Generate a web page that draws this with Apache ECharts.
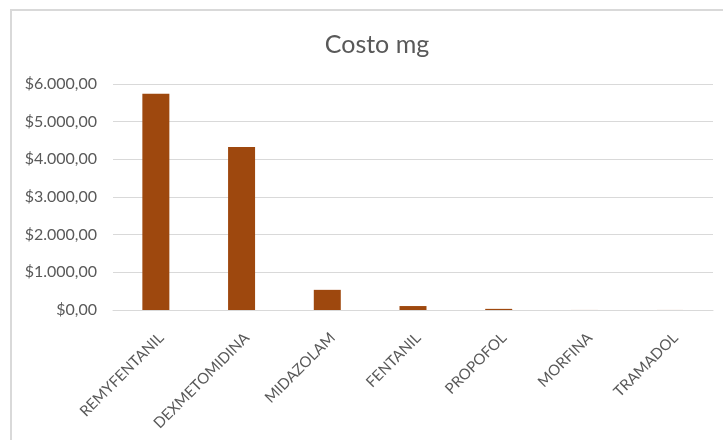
<!DOCTYPE html>
<html>
<head>
<meta charset="utf-8">
<script src="https://cdn.jsdelivr.net/npm/echarts@6/dist/echarts.min.js"></script>
<style>
  html, body { margin: 0; padding: 0; background: #fff; }
  #chart { width: 723px; height: 440px; }
</style>
</head>
<body>
<div id="chart"></div>
<script>
// Cost per mg of each drug
const categories = ['REMYFENTANIL', 'DEXMETOMIDINA', 'MIDAZOLAM', 'FENTANIL', 'PROPOFOL', 'MORFINA', 'TRAMADOL'];
const costPerMg = [5740, 4330, 535, 105, 30, 1, 1];
const yTicks = { min: 0, max: 6000, interval: 1000 };

function money(v) {
  const parts = v.toFixed(2).split('.');
  const intPart = parts[0].replace(/\B(?=(\d{3})+(?!\d))/g, '.');
  return '$' + intPart + ',' + parts[1];
}

const chart = echarts.init(document.getElementById('chart'), null, { renderer: 'canvas' });
chart.setOption({
  animation: false,
  backgroundColor: '#ffffff',
  title: {
    text: 'Costo mg',
    left: 372,
    top: 27,
    textAlign: 'center',
    textStyle: { fontFamily: 'Lato', fontSize: 25, fontWeight: 'normal', color: '#595959' }
  },
  graphic: [
    { type: 'line', shape: { x1: 10, y1: 10, x2: 723, y2: 10 }, style: { stroke: '#d9d9d9', lineWidth: 2 } },
    { type: 'line', shape: { x1: 11, y1: 10, x2: 11, y2: 440 }, style: { stroke: '#d9d9d9', lineWidth: 2 } }
  ],
  grid: { left: 113, right: 10, top: 84, bottom: 130 },
  xAxis: {
    type: 'category',
    data: categories,
    axisLine: { show: true, lineStyle: { color: '#d9d9d9', width: 1 } },
    axisTick: { show: false },
    axisLabel: {
      rotate: 45,
      interval: 0,
      margin: 20,
      verticalAlign: 'top',
      fontFamily: 'Lato',
      fontSize: 15,
      color: '#595959'
    }
  },
  yAxis: {
    type: 'value',
    min: yTicks.min,
    max: yTicks.max,
    interval: yTicks.interval,
    axisLine: { show: false },
    axisTick: { show: false },
    splitLine: { lineStyle: { color: '#d9d9d9', width: 1 } },
    axisLabel: {
      formatter: money,
      margin: 16,
      fontFamily: 'Lato',
      fontSize: 16,
      color: '#595959'
    }
  },
  series: [{
    type: 'bar',
    data: costPerMg,
    barWidth: 27,
    itemStyle: { color: '#9e480e' }
  }]
});
</script>
</body>
</html>
